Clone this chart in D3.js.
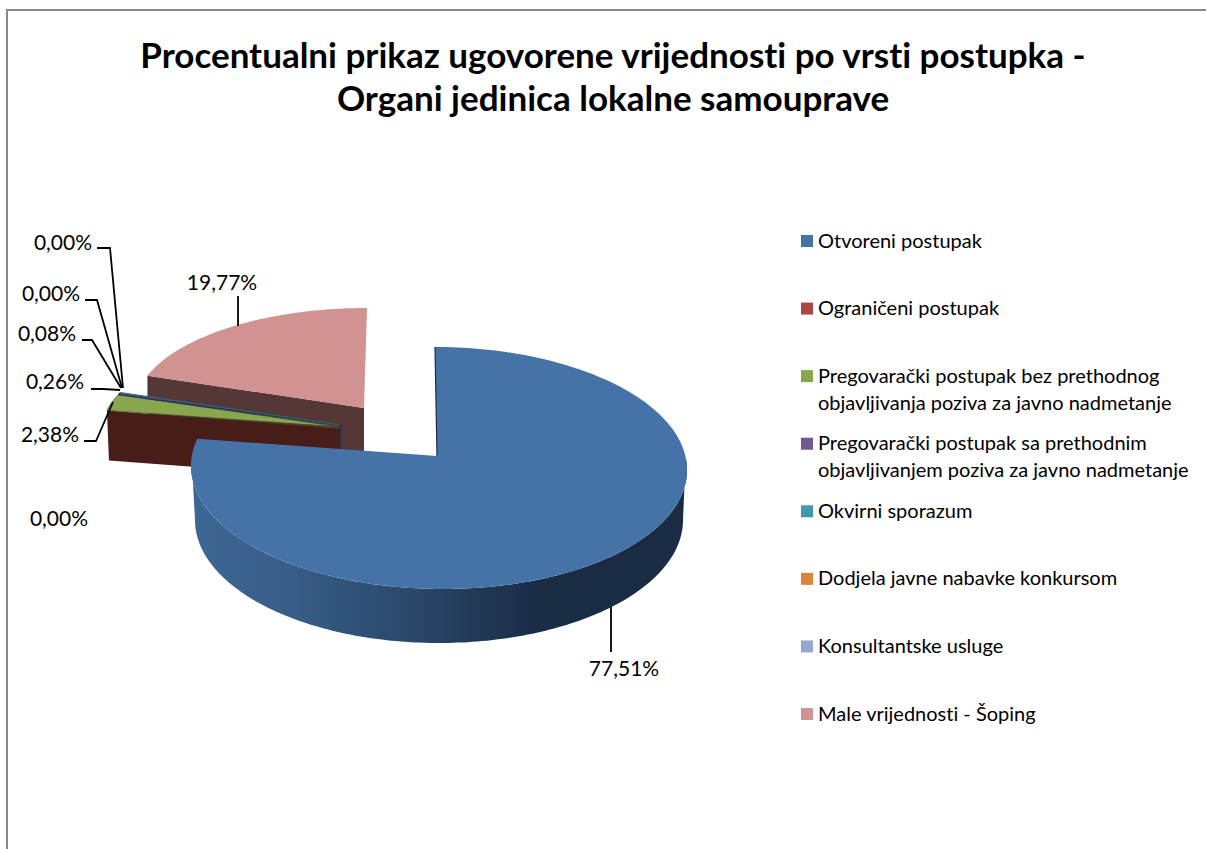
<!DOCTYPE html>
<html><head><meta charset="utf-8">
<script src="https://cdn.jsdelivr.net/npm/d3@7"></script>
<style>html,body{margin:0;padding:0;background:#fff;overflow:hidden}svg{display:block}text{font-family:Lato,Carlito,sans-serif;fill:#000;font-variant-ligatures:none}</style>
</head><body>
<script>
const titleLines = ["Procentualni prikaz ugovorene vrijednosti po vrsti postupka -","Organi jedinica lokalne samouprave"];
const categories = ["Otvoreni postupak","Ograničeni postupak","Pregovarački postupak bez prethodnog objavljivanja poziva za javno nadmetanje","Pregovarački postupak sa prethodnim objavljivanjem poziva za javno nadmetanje","Okvirni sporazum","Dodjela javne nabavke konkursom","Konsultantske usluge","Male vrijednosti - Šoping"];
const values = [77.51,0.00,2.38,0.26,0.08,0.00,0.00,19.77];
const colors = ["#4572a7","#aa4643","#89a54e","#71588f","#4198af","#db843d","#93a9cf","#d19392"];
const legendLines = [["Otvoreni postupak"],["Ograničeni postupak"],["Pregovarački postupak bez prethodnog","objavljivanja poziva za javno nadmetanje"],["Pregovarački postupak sa prethodnim","objavljivanjem poziva za javno nadmetanje"],["Okvirni sporazum"],["Dodjela javne nabavke konkursom"],["Konsultantske usluge"],["Male vrijednosti - Šoping"]];

const W=1206,H=849;
const svg=d3.select("body").append("svg").attr("width",W).attr("height",H);
const defs=svg.append("defs");
const grad=defs.append("linearGradient").attr("id","blueWall").attr("gradientUnits","userSpaceOnUse").attr("x1",191).attr("x2",687).attr("y1",0).attr("y2",0);
[[0,"#3d6795"],[0.2,"#385d87"],[0.45,"#2a4769"],[0.7,"#1a2c44"],[1,"#1a2c44"]].forEach(s=>grad.append("stop").attr("offset",s[0]).attr("stop-color",s[1]));

// frame
svg.append("path").attr("d",`M7,${H}V10H${W}`).attr("fill","none").attr("stroke","#878787").attr("stroke-width",2);

// title
svg.append("g").selectAll("text").data(titleLines).join("text")
 .attr("x",613).attr("y",(d,i)=>68+i*43).attr("text-anchor","middle").attr("font-size",35).attr("font-weight",700).text(d=>d);

const arcs=d3.pie().sort(null).value(d=>d)(values);
const line=d3.line();
const deg=Math.PI/180;
function rim(g,a0){const a=g.warp?g.warp(a0):a0;
 return [g.cx+g.rx*Math.sin(a)-(g.skew||0)*Math.cos(a), g.cy-g.ry*Math.cos(a)];}
function sweep(g,a0,a1,n=120){return d3.range(n+1).map(i=>rim(g,a0+(a1-a0)*i/n));}
const topBlue={cx:439,cy:468,rx:248,ry:121,skew:4,apex:[437,456],warp:a=>a-0.087*Math.sin(a)};
const botBlue={cx:439,cy:520,rx:244,ry:123};
const back={cx:367,cy:408,rx:232,ry:100,apex:[364,408],depth:60};
const mid={cx:344,cy:427,rx:241,ry:92,apex:[341,427],depth:50,warp:a=>280.4*deg+1.19*(a-279.04*deg)};

const pie=svg.append("g");
// back slice wall + top (Male vrijednosti)
const pink=arcs[7];
const pinkLeft=rim(back,pink.startAngle);
pie.append("path").attr("fill","#553836").attr("d",line([pinkLeft,back.apex,[back.apex[0],back.apex[1]+back.depth],[pinkLeft[0],pinkLeft[1]+back.depth]])+"Z");
pie.append("path").attr("fill",colors[7]).attr("d",line([back.apex,...sweep(back,pink.startAngle,pink.endAngle)])+"Z");

// middle wedge: wall, green, purple and teal slivers
const green=arcs[2];
const gl=rim(mid,green.startAngle);
pie.append("path").attr("fill","#481d19").attr("d",line([gl,[mid.apex[0],mid.apex[1]+2],[mid.apex[0],mid.apex[1]+mid.depth+1],[gl[0]+2,gl[1]+50]])+"Z");
pie.append("path").attr("fill",colors[2]).attr("stroke","#2d4a1f").attr("stroke-width",0.6).attr("d",line([mid.apex,...sweep(mid,green.startAngle,green.endAngle,20)])+"Z");
[3,4].forEach(i=>{const a=arcs[i];
 pie.append("path").attr("fill",colors[i]).attr("stroke",i==3?"#2b2a5c":"#2d6a7a").attr("stroke-width",i==3?1.2:0.7).attr("stroke-linejoin","round")
  .attr("d",line([[mid.apex[0],mid.apex[1]-2],...sweep(mid,a.startAngle,a.endAngle,6)])+"Z");});
pie.append("path").attr("fill","none").attr("stroke","#2a2f55").attr("stroke-width",2).attr("d",line([[mid.apex[0]-0.5,mid.apex[1]-3],[mid.apex[0]-0.5,mid.apex[1]+mid.depth-20]]));

// blue slice wall and top
const blue=arcs[0];
const wallT=sweep(topBlue,Math.PI/2,Math.PI*1.5,160), wallB=sweep(botBlue,Math.PI*1.5,Math.PI/2,160);
pie.append("path").attr("fill","url(#blueWall)").attr("d",line([...wallT,...wallB])+"Z");
pie.append("path").attr("fill",colors[0]).attr("d",line([topBlue.apex,...sweep(topBlue,blue.startAngle,blue.endAngle,200)])+"Z");
pie.append("path").attr("fill","none").attr("stroke","#1a2d45").attr("stroke-width",1.2)
 .attr("d",line([[rim(topBlue,0)[0],rim(topBlue,0)[1]],[topBlue.apex[0],topBlue.apex[1]]]));

// leaders and data labels
const fmt=v=>v.toFixed(2).replace(".",",")+"%";
const labels=[
 {i:0,x:624,y:676,pts:[[611,607],[611,652]]},
 {i:7,x:222,y:290,pts:[[238,296],[238,326]]},
 {i:2,x:50,y:442,pts:[[84,441],[96,441],[113,402]]},
 {i:3,x:55,y:389,pts:[[91,389],[103,389],[120,390]]},
 {i:4,x:47,y:341,pts:[[82,340],[92,340],[121,388]]},
 {i:5,x:51,y:301,pts:[[85,300],[97,300],[122,388]]},
 {i:6,x:63,y:250,pts:[[97,248],[110,248],[123,388]]},
 {i:1,x:59,y:526,pts:null}];
const lab=svg.append("g");
lab.selectAll("path").data(labels.filter(d=>d.pts)).join("path").attr("fill","none").attr("stroke","#000").attr("stroke-width",1.8).attr("d",d=>line(d.pts));
lab.selectAll("text").data(labels).join("text").attr("x",d=>d.x).attr("y",d=>d.y).attr("text-anchor","middle").attr("font-size",21).text(d=>fmt(values[d.i]));

// legend
const legY=d3.scalePoint().domain(d3.range(categories.length)).range([241,714]);
const leg=svg.append("g").selectAll("g").data(categories).join("g");
leg.append("rect").attr("x",801).attr("y",(d,i)=>legY(i)-6).attr("width",12).attr("height",12).attr("fill",(d,i)=>colors[i]);
leg.each(function(d,i){const g=d3.select(this);const ls=legendLines[i];
 g.selectAll("text").data(ls).join("text").attr("x",818).attr("y",(l,j)=>legY(i)+6.5+j*27).attr("font-size",20).text(l=>l);});
</script>
</body></html>
